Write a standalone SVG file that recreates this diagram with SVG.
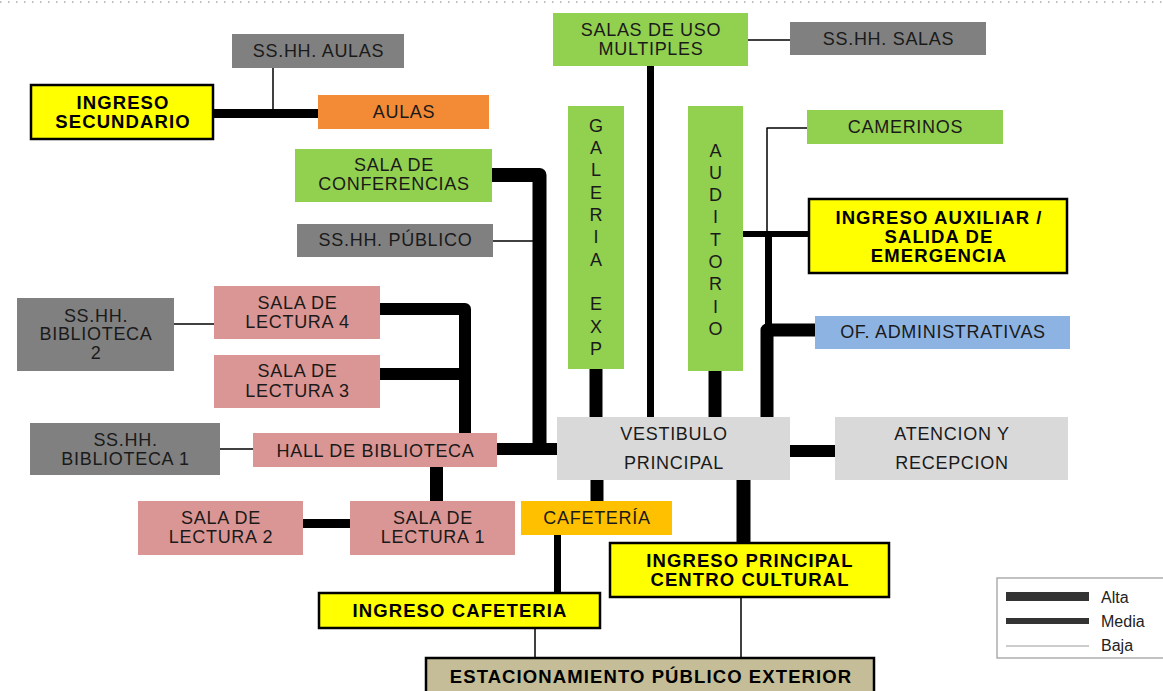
<svg xmlns="http://www.w3.org/2000/svg" width="1163" height="691" viewBox="0 0 1163 691">
<style>
text{font-family:"Liberation Sans",Arial,Helvetica,sans-serif;fill:#1a1a1a;text-anchor:middle;dominant-baseline:central}
.r{font-size:18px;letter-spacing:0.7px}
.b{font-size:18.5px;font-weight:bold;letter-spacing:1.1px;fill:#000}
.v{font-size:18px}
.gray{fill:#808080}
.green{fill:#92d050}
.pink{fill:#da9694}
.lg{fill:#d9d9d9}
.yel{fill:#ffff00;stroke:#000;stroke-width:2.5}
.conn path{fill:none;stroke:#000;stroke-linejoin:round}
.alta{stroke-width:13}
.media{stroke-width:7}
.baja{stroke-width:1.5;stroke:#1a1a1a}
.leg{font-size:16px;text-anchor:start;fill:#222}
</style>
<line x1="0" y1="2" x2="1163" y2="2" stroke="#aaaaaa" stroke-width="1.5" stroke-dasharray="1.5 6.5"/>

<g class="conn" id="connectors">
  <path class="alta" style="stroke-width:9" d="M213,113.5 H319"/>
  <path class="baja" d="M273,68 V113"/>
  <path class="media" d="M650.5,66 V418"/>
  <path class="baja" d="M748,40 H790"/>
  <path class="alta" style="stroke-width:14" d="M492,175 H539.5 V450"/>
  <path class="baja" d="M493,241 H539"/>
  <path class="alta" style="stroke-width:12" d="M380,309 H465 V434"/>
  <path class="alta" style="stroke-width:12" d="M380,374 H465"/>
  <path class="baja" d="M174,324 H214"/>
  <path class="baja" d="M220,449 H253"/>
  <path class="alta" style="stroke-width:12" d="M497,449 H558"/>
  <path class="alta" d="M436.5,467 V502"/>
  <path class="alta" style="stroke-width:9" d="M303,523.5 H351"/>
  <path class="alta" d="M596,369 V418"/>
  <path class="alta" d="M715,371 V418"/>
  <path class="baja" d="M807,128 H767 V234"/>
  <path class="media" style="stroke-width:6" d="M743,234 H810"/>
  <path class="media" d="M768.5,234 V330"/>
  <path class="alta" d="M815,330 H767 V418"/>
  <path class="alta" style="stroke-width:12" d="M790,451 H836"/>
  <path class="alta" d="M597,480 V502"/>
  <path class="alta" style="stroke-width:14" d="M743.5,480 V544"/>
  <path class="media" d="M557.5,535 V594"/>
  <path class="baja" d="M535,628 V659"/>
  <path class="baja" d="M741,597 V659"/>
</g>

<g id="sshh-aulas"><rect class="gray" x="232" y="34" width="172" height="34"/><text class="r" x="318.5" y="51">SS.HH. AULAS</text></g>
<g id="ingreso-secundario"><rect class="yel" x="31" y="85" width="182" height="54"/><text class="b" x="123" y="102.5">INGRESO</text><text class="b" x="123" y="121.5">SECUNDARIO</text></g>
<g id="aulas"><rect fill="#f38a35" x="318" y="95" width="171" height="34"/><text class="r" x="404" y="112">AULAS</text></g>
<g id="salas-uso-multiples"><rect class="green" x="553" y="13" width="195" height="53"/><text class="r" x="651" y="30">SALAS DE USO</text><text class="r" x="651" y="49">MULTIPLES</text></g>
<g id="sshh-salas"><rect class="gray" x="790" y="22" width="196" height="33"/><text class="r" x="888.5" y="39">SS.HH. SALAS</text></g>
<g id="sala-conferencias"><rect class="green" x="295" y="149" width="197" height="53"/><text class="r" x="394" y="165">SALA DE</text><text class="r" x="394" y="184">CONFERENCIAS</text></g>
<g id="sshh-publico"><rect class="gray" x="297" y="224" width="196" height="33"/><text class="r" x="395.5" y="240">SS.HH. PÚBLICO</text></g>
<g id="galeria-exp"><rect class="green" x="568" y="106" width="56" height="263"/>
  <text class="v" x="596" y="126">G</text><text class="v" x="596" y="148">A</text><text class="v" x="596" y="170">L</text><text class="v" x="596" y="193">E</text><text class="v" x="596" y="215">R</text><text class="v" x="596" y="237">I</text><text class="v" x="596" y="260">A</text><text class="v" x="596" y="304">E</text><text class="v" x="596" y="327">X</text><text class="v" x="596" y="349">P</text></g>
<g id="auditorio"><rect class="green" x="688" y="106" width="55" height="265"/>
  <text class="v" x="715.5" y="151">A</text><text class="v" x="715.5" y="173">U</text><text class="v" x="715.5" y="195">D</text><text class="v" x="715.5" y="217">I</text><text class="v" x="715.5" y="240">T</text><text class="v" x="715.5" y="262">O</text><text class="v" x="715.5" y="284">R</text><text class="v" x="715.5" y="307">I</text><text class="v" x="715.5" y="329">O</text></g>
<g id="camerinos"><rect class="green" x="807" y="110" width="196" height="34"/><text class="r" x="905.5" y="127">CAMERINOS</text></g>
<g id="ingreso-auxiliar"><rect class="yel" x="809" y="199" width="258" height="74"/><text class="b" x="939" y="217">INGRESO AUXILIAR /</text><text class="b" x="939" y="236">SALIDA DE</text><text class="b" x="939" y="255">EMERGENCIA</text></g>
<g id="of-administrativas"><rect fill="#8db3e2" x="815" y="316" width="255" height="33"/><text class="r" x="943" y="332">OF. ADMINISTRATIVAS</text></g>
<g id="sshh-biblioteca-2"><rect class="gray" x="17" y="298" width="157" height="73"/><text class="r" x="96" y="316">SS.HH.</text><text class="r" x="96" y="334">BIBLIOTECA</text><text class="r" x="96" y="353">2</text></g>
<g id="sala-lectura-4"><rect class="pink" x="214" y="286" width="166" height="53"/><text class="r" x="297.5" y="303">SALA DE</text><text class="r" x="297.5" y="322">LECTURA 4</text></g>
<g id="sala-lectura-3"><rect class="pink" x="214" y="355" width="166" height="53"/><text class="r" x="297.5" y="371">SALA DE</text><text class="r" x="297.5" y="391">LECTURA 3</text></g>
<g id="sshh-biblioteca-1"><rect class="gray" x="30" y="423" width="190" height="52"/><text class="r" x="125.5" y="440">SS.HH.</text><text class="r" x="125.5" y="459">BIBLIOTECA 1</text></g>
<g id="hall-biblioteca"><rect class="pink" x="253" y="433" width="244" height="34"/><text class="r" x="375.5" y="451">HALL DE BIBLIOTECA</text></g>
<g id="vestibulo-principal"><rect class="lg" x="557" y="417" width="233" height="63"/><text class="r" x="674" y="434">VESTIBULO</text><text class="r" x="674" y="463">PRINCIPAL</text></g>
<g id="atencion-recepcion"><rect class="lg" x="835" y="417" width="233" height="63"/><text class="r" x="952" y="434">ATENCION Y</text><text class="r" x="952" y="463">RECEPCION</text></g>
<g id="sala-lectura-2"><rect class="pink" x="138" y="501" width="165" height="54"/><text class="r" x="221" y="518">SALA DE</text><text class="r" x="221" y="537">LECTURA 2</text></g>
<g id="sala-lectura-1"><rect class="pink" x="350" y="501" width="165" height="54"/><text class="r" x="433" y="518">SALA DE</text><text class="r" x="433" y="537">LECTURA 1</text></g>
<g id="cafeteria"><rect fill="#ffc000" x="521" y="501" width="151" height="34"/><text class="r" x="597" y="518">CAFETERÍA</text></g>
<g id="ingreso-cafeteria"><rect class="yel" x="319" y="593" width="281" height="35"/><text class="b" x="460" y="610">INGRESO CAFETERIA</text></g>
<g id="ingreso-principal"><rect class="yel" x="610" y="543" width="279" height="54"/><text class="b" x="750" y="560">INGRESO PRINCIPAL</text><text class="b" x="750" y="579">CENTRO CULTURAL</text></g>
<g id="estacionamiento"><rect fill="#c4bd97" stroke="#000" stroke-width="2.5" x="426" y="658" width="448" height="45"/><text class="b" x="651" y="676">ESTACIONAMIENTO PÚBLICO EXTERIOR</text></g>

<g id="legend">
  <rect x="997" y="578" width="180" height="80" fill="#fff" stroke="#999" stroke-width="1.2"/>
  <rect x="1006" y="592" width="83" height="9" fill="#333"/>
  <rect x="1006" y="618" width="83" height="6" fill="#333"/>
  <line x1="1006" y1="646" x2="1089" y2="646" stroke="#999" stroke-width="1"/>
  <text class="leg" x="1101" y="597">Alta</text>
  <text class="leg" x="1101" y="621">Media</text>
  <text class="leg" x="1101" y="645">Baja</text>
</g>
</svg>
